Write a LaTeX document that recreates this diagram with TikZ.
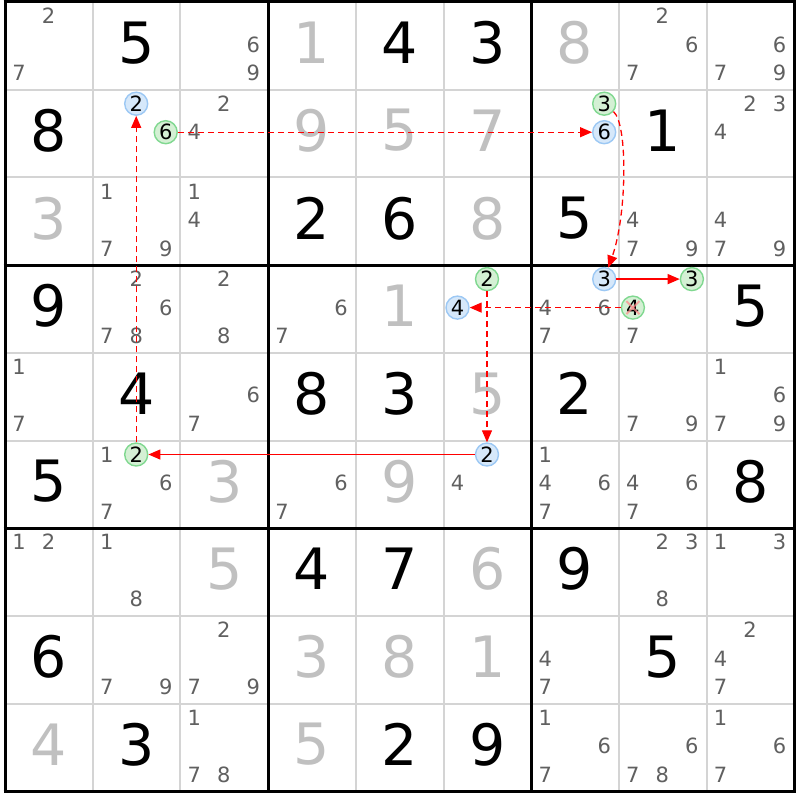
\documentclass[tikz,border=0pt]{standalone}
\usepackage{fontspec}
\setmainfont{DejaVu Sans}
\usetikzlibrary{arrows.meta}
\definecolor{thingrid}{HTML}{D4D4D4}
\definecolor{solvedc}{HTML}{C0C0C0}
\definecolor{candc}{HTML}{606060}
\definecolor{bluefill}{HTML}{D6E8FA}
\definecolor{blueline}{HTML}{9CC8F4}
\definecolor{greenfill}{HTML}{D4F0D4}
\definecolor{greenline}{HTML}{80D890}
\definecolor{linkred}{HTML}{FF0000}
\definecolor{crossc}{HTML}{FF8C8C}
\begin{document}
\begin{tikzpicture}[x=1pt,y=-1pt,
  givend/.style={font=\fontsize{57}{57}\selectfont, inner sep=0pt, text=black},
  solvedd/.style={givend, text=solvedc},
  cand/.style={font=\fontsize{21}{21}\selectfont, inner sep=0pt, text=candc},
  bluec/.style={cand, text=black, circle, draw=blueline, fill=bluefill, line width=1.4pt, minimum size=23pt},
  greenc/.style={bluec, draw=greenline, fill=greenfill},
  stronglink/.style={draw=linkred, line width=1.3pt, -{Triangle[length=12pt,width=10pt]}},
  weaklink/.style={stronglink, dash pattern=on 6pt off 4pt},
]
\useasboundingbox (0,0) rectangle (800,800);
\fill[white] (0,0) rectangle (800,800);
% thin grid lines
\foreach \i in {1,2,4,5,7,8} {
  \draw[thingrid, line width=2pt] ({5+87.7*\i},2) -- ({5+87.7*\i},791.3);
  \draw[thingrid, line width=2pt] (5,{2+87.7*\i}) -- (794.3,{2+87.7*\i});
}
% thick box lines
\foreach \i in {0,3,6,9} {
  \draw[black, line width=3pt] ({5+87.7*\i},0.5) -- ({5+87.7*\i},792.8);
  \draw[black, line width=3pt] (3.5,{2+87.7*\i}) -- (795.8,{2+87.7*\i});
}
% given digits
\foreach \r/\c/\v in {1/2/5,1/5/4,1/6/3,2/1/8,2/8/1,3/4/2,3/5/6,3/7/5,4/1/9,4/9/5,
  5/2/4,5/4/8,5/5/3,5/7/2,6/1/5,6/9/8,7/4/4,7/5/7,7/7/9,8/1/6,8/8/5,9/2/3,9/5/2,9/6/9} {
  \node[givend] (g-\r-\c) at ({5+87.7*(\c-0.5)},{2+87.7*(\r-0.5)-3}) {\v};
}
% solved digits
\foreach \r/\c/\v in {1/4/1,1/7/8,2/4/9,2/5/5,2/6/7,3/1/3,3/6/8,4/5/1,5/6/5,6/3/3,6/5/9,
  7/3/5,7/6/6,8/4/3,8/5/8,8/6/1,9/1/4,9/4/5} {
  \node[solvedd] (g-\r-\c) at ({5+87.7*(\c-0.5)},{2+87.7*(\r-0.5)-3}) {\v};
}
% plain candidates
\foreach \r/\c/\ds in {1/1/{2,7},1/3/{6,9},1/8/{2,6,7},1/9/{6,7,9},
  2/3/{2,4},2/9/{2,3,4},
  3/2/{1,7,9},3/3/{1,4},3/8/{4,7,9},3/9/{4,7,9},
  4/2/{2,6,7,8},4/3/{2,8},4/4/{6,7},4/7/{4,6,7},4/8/{7},
  5/1/{1,7},5/3/{6,7},5/8/{7,9},5/9/{1,6,7,9},
  6/2/{1,6,7},6/4/{6,7},6/6/{4},6/7/{1,4,6,7},6/8/{4,6,7},
  7/1/{1,2},7/2/{1,8},7/8/{2,3,8},7/9/{1,3},
  8/2/{7,9},8/3/{2,7,9},8/7/{4,7},8/9/{2,4,7},
  9/3/{1,7,8},9/7/{1,6,7},9/8/{6,7,8},9/9/{1,6,7}} {
  \foreach \d in \ds {
    \pgfmathsetmacro\px{5+87.7*(\c-1)+14+29.5*mod(\d-1,3)}
    \pgfmathsetmacro\py{2+87.7*(\r-1)+14+28.5*floor((\d-1)/3)}
    \node[cand] (k-\r-\c-\d) at (\px,\py) {\d};
  }
}
% highlighted candidates
\foreach \r/\c/\d in {2/2/2,2/7/6,4/7/3,4/6/4,6/6/2} {
  \pgfmathsetmacro\px{5+87.7*(\c-1)+14+29.5*mod(\d-1,3)}
  \pgfmathsetmacro\py{2+87.7*(\r-1)+14+28.5*floor((\d-1)/3)}
  \node[bluec] (k-\r-\c-\d) at (\px,\py) {\d};
}
\foreach \r/\c/\d in {2/2/6,2/7/3,4/8/3,4/8/4,4/6/2,6/2/2} {
  \pgfmathsetmacro\px{5+87.7*(\c-1)+14+29.5*mod(\d-1,3)}
  \pgfmathsetmacro\py{2+87.7*(\r-1)+14+28.5*floor((\d-1)/3)}
  \node[greenc] (k-\r-\c-\d) at (\px,\py) {\d};
}
% elimination cross
\draw[crossc, line width=2pt, opacity=0.75] ([shift={(-6.5,-6.5)}]k-4-8-4.center) -- ([shift={(6.5,6.5)}]k-4-8-4.center);
\draw[crossc, line width=2pt, opacity=0.75] ([shift={(-6.5,6.5)}]k-4-8-4.center) -- ([shift={(6.5,-6.5)}]k-4-8-4.center);
% chain links
\draw[stronglink] (k-6-6-2) -- (k-6-2-2);
\draw[weaklink] (k-6-2-2) -- (k-2-2-2);
\draw[weaklink] (k-2-2-6) -- (k-2-7-6);
\draw[weaklink] (k-2-7-3) .. controls (628,124) and (627,215) .. (k-4-7-3);
\draw[stronglink] (k-4-7-3) -- (k-4-8-3);
\draw[weaklink] (k-4-8-4) -- (k-4-6-4);
\draw[weaklink] (k-4-6-2) -- (k-6-6-2);
\end{tikzpicture}
\end{document}
